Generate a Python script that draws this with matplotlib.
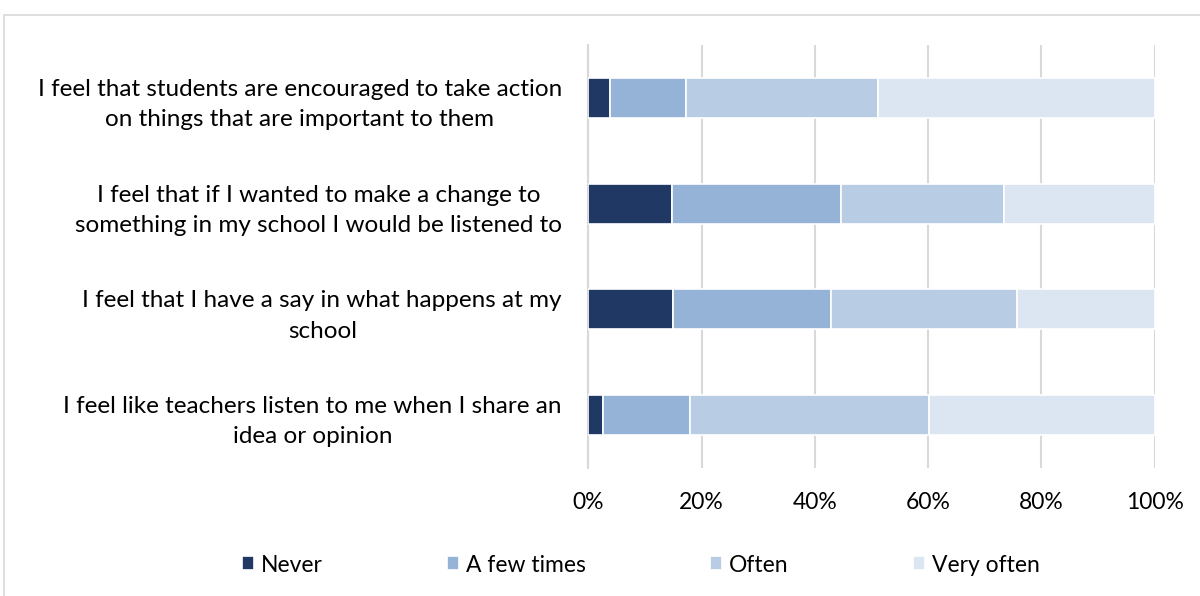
import matplotlib.pyplot as plt
import numpy as np

# statements, top to bottom
statements = [
    "I feel that students are encouraged to take action\non things that are important to them",
    "I feel that if I wanted to make a change to\nsomething in my school I would be listened to",
    "I feel that I have a say in what happens at my\nschool",
    "I feel like teachers listen to me when I share an\nidea or opinion",
]
responses = ["Never", "A few times", "Often", "Very often"]
never = [3.8, 14.8, 14.9, 2.5]
few_times = [13.4, 29.8, 28.0, 15.5]
often = [33.9, 28.7, 32.7, 42.1]
very_often = [48.9, 26.7, 24.4, 39.9]
colors = ["#203864", "#95B3D7", "#B8CCE4", "#DCE6F2"]

plt.rcParams['font.family'] = ['Lato', 'DejaVu Sans']

fig = plt.figure(figsize=(12, 5.96), dpi=100)
ax = fig.add_axes([0.4903, 0.2148, 0.472, 0.7097])

y = np.arange(len(statements))
left = np.zeros(len(statements))
for name, vals, c in zip(responses, [never, few_times, often, very_often], colors):
    ax.barh(y, vals, left=left, height=0.38, color=c, edgecolor='white',
            linewidth=1.2, label=name, zorder=3)
    left += np.array(vals)

ax.set_xlim(0, 100)
ax.set_ylim(len(statements) - 0.5, -0.5)
ax.set_xticks(np.arange(0, 101, 20))
ax.set_xticklabels([f"{v}%" for v in range(0, 101, 20)], fontsize=16.5, color='#000000')
ax.set_yticks(y)
ax.set_yticklabels(statements, fontsize=17.5, multialignment='center', linespacing=1.55)
ax.tick_params(axis='both', length=0)
ax.tick_params(axis='y', pad=19)
ax.tick_params(axis='x', pad=17)
ax.grid(axis='x', color='#D9D9D9', linewidth=1.5, zorder=0)
for s in ['top', 'right', 'bottom']:
    ax.spines[s].set_visible(False)
ax.spines['left'].set_color('#D9D9D9')
ax.spines['left'].set_linewidth(1.5)

handles, labels = ax.get_legend_handles_labels()
fig.legend(handles, labels, loc='center', bbox_to_anchor=(0.534, 0.052), ncol=4,
           frameon=False, fontsize=16.5, handlelength=0.55, handleheight=0.55,
           handletextpad=0.3, columnspacing=5.4)

# chart area border
border = plt.Rectangle((4 / 1200, -0.1), 1.2, 1 - 15 / 596 + 0.1, transform=fig.transFigure,
                       fill=False, edgecolor='#D9D9D9', linewidth=1.2)
fig.patches.append(border)

fig.savefig('out.png', dpi=100)
